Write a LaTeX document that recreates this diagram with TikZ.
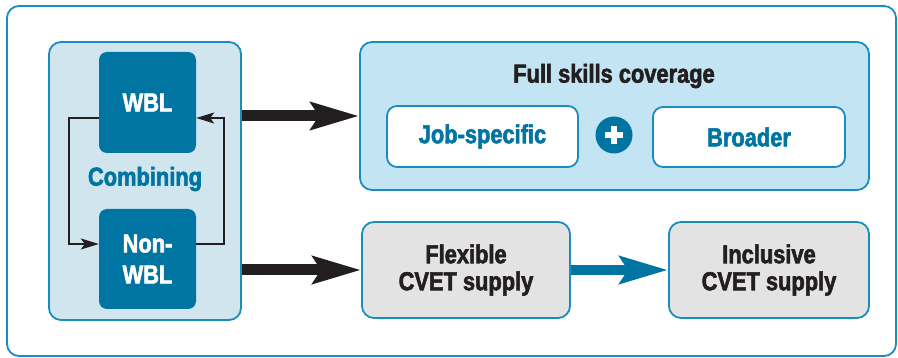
\documentclass[tikz,border=0pt]{standalone}
\usepackage{fontspec}
\setmainfont{Liberation Sans}[FakeStretch=0.84, BoldFeatures={FakeBold=2.2}]
\usetikzlibrary{arrows.meta}
\definecolor{frameblue}{HTML}{1A8DBF}
\definecolor{darkbox}{HTML}{0075A1}
\definecolor{leftfill}{HTML}{D0E5EE}
\definecolor{rightfill}{HTML}{C3E4F2}
\definecolor{grayfill}{HTML}{E3E3E3}
\definecolor{inkblack}{HTML}{231F20}
\begin{document}
\begin{tikzpicture}[x=1pt,y=-1pt,
  lbl/.style={font=\bfseries\fontsize{26}{27}\selectfont, align=center},
  panel/.style={draw=frameblue, line width=1.8pt, rounded corners=12pt},
  darkbox/.style={fill=darkbox, rounded corners=8pt, text=white, lbl},
  whitebox/.style={panel, fill=white, rounded corners=10pt, text=darkbox, lbl},
  graybox/.style={panel, fill=grayfill, text=inkblack, lbl},
  bigarrow/.style={draw=inkblack, line width=11pt, -{Stealth[length=48pt,width=27pt,inset=8pt]}},
  tealarrow/.style={draw=darkbox, line width=10pt, -{Stealth[length=48pt,width=27pt,inset=8pt]}},
  looparrow/.style={draw=inkblack, line width=1.5pt, -{Stealth[length=18pt,width=11pt,inset=4pt]}}
]
\useasboundingbox (0,0) rectangle (898,358);
\draw[frameblue, line width=1.8pt, rounded corners=12pt] (7,6) rectangle (896,356);

% left panel
\node[panel, fill=leftfill, minimum width=192pt, minimum height=278pt, inner sep=0pt] (left) at (145,181) {};
\node[darkbox, minimum width=97pt, minimum height=101pt, inner sep=0pt] (wbl) at (147.5,102.5) {WBL};
\node[darkbox, minimum width=97pt, minimum height=100pt, inner sep=0pt] (nwbl) at (147.5,259) {Non-\\[4pt]WBL};
\node[lbl, text=darkbox] (comb) at (145,179) {Combining};

\draw[looparrow] ([yshift=-15.5pt]wbl.west) -- ++(-30pt,0) |- ([yshift=15pt]nwbl.west);
\draw[looparrow] ([yshift=15pt]nwbl.east) -- ++(28pt,0) |- ([yshift=-15.5pt]wbl.east);

% right top panel
\node[panel, fill=rightfill, minimum width=509pt, minimum height=148pt, inner sep=0pt] (rtop) at (614.5,116) {};
\node[lbl, text=inkblack] (title) at (614,76) {Full skills coverage};
\node[whitebox, minimum width=191pt, minimum height=61pt, inner sep=0pt] (job) at (482.5,136.5) {Job-specific};
\node[whitebox, minimum width=192pt, minimum height=60pt, inner sep=0pt] (broad) at (749,137) {Broader};
\node[circle, fill=darkbox, minimum size=37pt, inner sep=0pt] (plus) at (614,135) {};
\draw[white, line width=5.5pt] ([xshift=-9pt]plus.center) -- ([xshift=9pt]plus.center);
\draw[white, line width=5.5pt] ([yshift=-9pt]plus.center) -- ([yshift=9pt]plus.center);

% bottom boxes
\node[graybox, minimum width=208pt, minimum height=96pt, inner sep=0pt] (flex) at (466,270) {Flexible\\CVET supply};
\node[graybox, minimum width=200pt, minimum height=96pt, inner sep=0pt] (incl) at (769,270) {Inclusive\\CVET supply};

% arrows
\draw[bigarrow] (left.east |- rtop.west) -- (rtop.west);
\draw[bigarrow] (left.east |- flex.west) -- (flex.west);
\draw[tealarrow] (flex.east) -- (incl.west);
\end{tikzpicture}
\end{document}
